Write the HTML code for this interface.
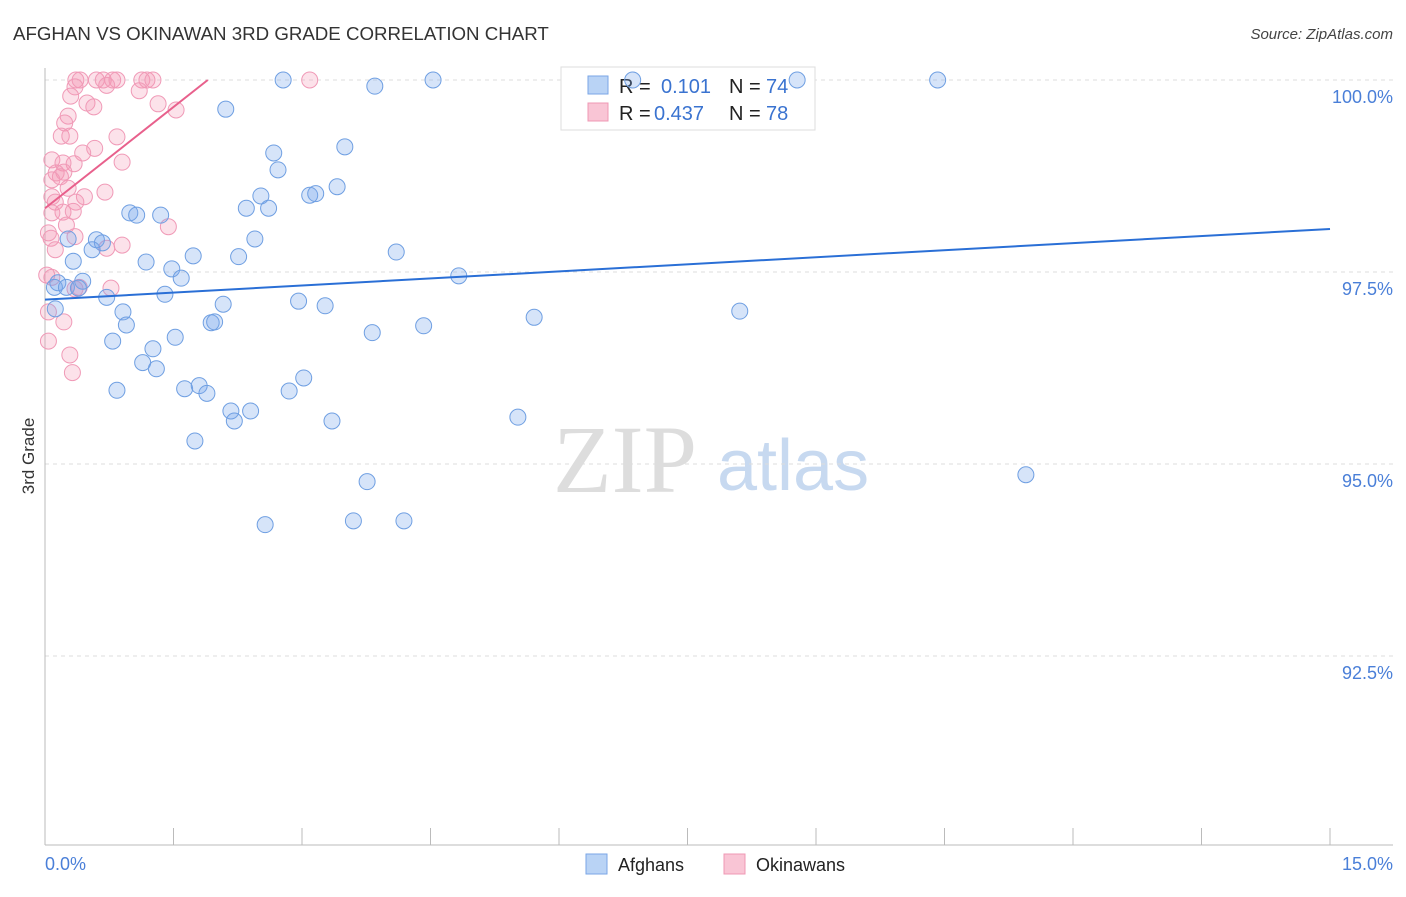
<!DOCTYPE html>
<html><head><meta charset="utf-8"><style>
body{margin:0;background:#fff;font-family:"Liberation Sans",sans-serif}
svg text{font-family:"Liberation Sans",sans-serif}
</style></head><body>
<svg id="chart" width="1406" height="892" viewBox="0 0 1406 892" xmlns="http://www.w3.org/2000/svg">
<text x="13" y="40" font-size="18.7" fill="#333">AFGHAN VS OKINAWAN 3RD GRADE CORRELATION CHART</text>
<text x="1393" y="39" font-size="15" fill="#444" font-style="italic" text-anchor="end">Source: ZipAtlas.com</text>
<text transform="translate(34,456) rotate(-90)" font-size="17" fill="#333" text-anchor="middle">3rd Grade</text>
<g>
<text x="553" y="492" font-size="96" fill="#ddd" font-family="Liberation Serif,serif" style="font-family:'Liberation Serif',serif">ZIP</text>
<text x="717" y="490" font-size="72" fill="#c7d9f0">atlas</text>
</g>
<g id="grid"></g>
<g id="axes"></g>
<g>
<rect x="561" y="67" width="254" height="63" fill="#fff" stroke="#ddd"/>
<rect x="588" y="76" width="20" height="18" fill="#b9d3f5" stroke="#7aa6e6"/>
<text x="619" y="93" font-size="20" fill="#222">R = </text><text x="661" y="93" font-size="20" fill="#3a73d0">0.101</text>
<text x="729" y="93" font-size="20" fill="#222">N = </text><text x="766" y="93" font-size="20" fill="#3a73d0">74</text>
<rect x="588" y="103" width="20" height="18" fill="#f9c5d5" stroke="#ef98b4"/>
<text x="619" y="120" font-size="20" fill="#222">R = </text><text x="654" y="120" font-size="20" fill="#3a73d0">0.437</text>
<text x="729" y="120" font-size="20" fill="#222">N = </text><text x="766" y="120" font-size="20" fill="#3a73d0">78</text>
</g>
<g id="pts"></g>
<g id="lines"></g>
<g>
<rect x="586" y="854" width="21" height="20" fill="#b9d3f5" stroke="#7aa6e6"/>
<text x="618" y="871" font-size="18" fill="#222">Afghans</text>
<rect x="724" y="854" width="21" height="20" fill="#f9c5d5" stroke="#ef98b4"/>
<text x="756" y="871" font-size="18" fill="#222">Okinawans</text>
</g>
</svg>
<script>
const xTicks=[0,1.5,3,4.5,6,7.5,9,10.5,12,13.5,15];
const yTicks=[100,97.5,95,92.5];
const yTickLabels=["100.0%","97.5%","95.0%","92.5%"];
const xEndLabels=["0.0%","15.0%"];
const blueX=[2.78,3.85,4.53,6.86,8.78,10.42,2.11,3.50,2.67,2.72,3.41,3.09,3.16,2.52,2.35,2.61,0.99,1.07,1.35,2.45,0.27,0.60,0.67,0.55,1.73,2.26,4.10,1.18,0.33,1.48,1.59,4.83,0.15,0.44,0.11,0.25,0.39,1.40,0.72,2.96,2.08,3.27,0.12,0.91,5.71,8.11,0.95,1.94,1.98,4.42,3.82,1.52,0.79,1.26,1.14,1.30,3.02,0.84,1.63,1.80,1.89,2.85,2.17,2.40,2.21,3.35,5.52,1.75,11.45,3.76,2.57,3.60,4.19];
const blueY=[100,99.92,100,100,100,100,99.62,99.13,99.05,98.83,98.61,98.50,98.52,98.49,98.33,98.33,98.27,98.24,98.24,97.93,97.93,97.92,97.88,97.79,97.71,97.70,97.76,97.63,97.64,97.54,97.42,97.45,97.36,97.38,97.30,97.30,97.29,97.21,97.17,97.12,97.08,97.06,97.02,96.98,96.91,96.99,96.81,96.84,96.85,96.80,96.71,96.65,96.60,96.50,96.32,96.24,96.12,95.96,95.98,96.02,95.92,95.95,95.69,95.69,95.56,95.56,95.61,95.30,94.86,94.77,94.21,94.26,94.26];
const pinkX=[0.36,0.41,0.60,0.68,0.79,0.84,1.13,1.19,1.26,3.09,0.35,0.72,1.10,0.30,0.49,0.57,1.32,1.53,0.27,0.23,0.84,0.19,0.29,0.58,0.44,0.08,0.90,0.34,0.21,0.13,0.22,0.18,0.08,0.27,0.70,0.46,0.08,0.12,0.36,0.21,0.33,0.08,1.44,0.25,0.04,0.07,0.35,0.90,0.72,0.12,0.02,0.08,0.40,0.77,0.35,0.04,0.22,0.04,0.29,0.32];
const pinkY=[100,100,100,100,100,100,100,100,100,100,99.91,99.93,99.86,99.79,99.70,99.65,99.69,99.61,99.53,99.44,99.26,99.27,99.27,99.11,99.05,98.96,98.93,98.91,98.92,98.79,98.80,98.74,98.70,98.59,98.54,98.48,98.48,98.41,98.41,98.28,98.29,98.27,98.09,98.11,98.01,97.94,97.96,97.85,97.81,97.79,97.46,97.43,97.30,97.29,97.28,96.98,96.85,96.60,96.42,96.19];
const blueTrend=[97.14,98.06];
const pinkTrend=[98.33,100,1.90];
const X=v=>45+v/15*1285;
const Y=v=>80+(100-v)/2.5*192;
const NS="http://www.w3.org/2000/svg";
function mk(tag,attrs,parent){const e=document.createElementNS(NS,tag);for(const k in attrs)e.setAttribute(k,attrs[k]);document.getElementById(parent).appendChild(e);return e;}
yTicks.forEach((t,i)=>{
 const g=mk('line',{x1:45,x2:1393,y1:Y(t),y2:Y(t),stroke:'#ddd','stroke-dasharray':'4,4'},'grid');
 
 
 const l=mk('text',{x:1393,y:Y(t)+23,'font-size':18,fill:'#4a7fd8','text-anchor':'end'},'grid');l.textContent=yTickLabels[i];
 
 
});
let a=mk('line',{x1:45,x2:45,y1:68,y2:845,stroke:'#bbb'},'axes');


a=mk('line',{x1:45,x2:1393,y1:845,y2:845,stroke:'#bbb'},'axes');


xTicks.forEach(t=>{const e=mk('line',{x1:X(t),x2:X(t),y1:828,y2:845,stroke:'#bbb'},'axes');
 
 });
let t1=mk('text',{x:45,y:870,'font-size':18,fill:'#4a7fd8'},'axes');t1.textContent=xEndLabels[0];


let t2=mk('text',{x:1393,y:870,'font-size':18,fill:'#4a7fd8','text-anchor':'end'},'axes');t2.textContent=xEndLabels[1];


pinkX.forEach((x,i)=>{const c=mk('circle',{cx:X(x),cy:Y(pinkY[i]),r:8,fill:'rgba(244,150,180,0.28)',stroke:'#f09ab7','stroke-width':1},'pts');
 
 });
blueX.forEach((x,i)=>{const c=mk('circle',{cx:X(x),cy:Y(blueY[i]),r:8,fill:'rgba(120,165,235,0.3)',stroke:'#6f9fe2','stroke-width':1},'pts');
 
 });
let bl=mk('line',{x1:X(0),y1:Y(blueTrend[0]),x2:X(15),y2:Y(blueTrend[1]),stroke:'#2a6fd6','stroke-width':2},'lines');


let pl=mk('line',{x1:X(0),y1:Y(pinkTrend[0]),x2:X(pinkTrend[2]),y2:Y(pinkTrend[1]),stroke:'#e8608c','stroke-width':2},'lines');


</script>
</body></html>
